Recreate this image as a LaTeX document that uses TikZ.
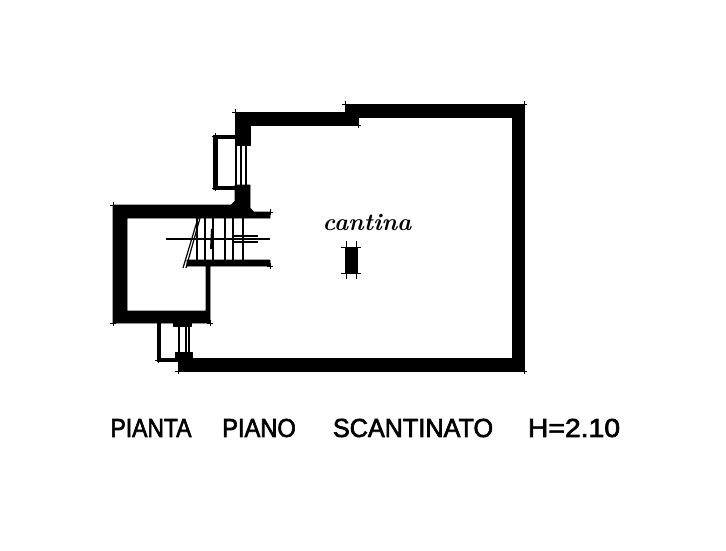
\documentclass[tikz,border=0pt]{standalone}
\usepackage{fontspec}
\setmainfont{Latin Modern Roman}
\newfontfamily\letterfont[FakeBold=2.5]{Liberation Sans}
\newcommand{\wordsqueeze}[2]{\scalebox{#1}[1]{#2}}
\tikzset{
  wall/.style={fill=black, draw=black, line width=0.6pt, line join=round},
  frame/.style={draw=black, line width=4.5pt},
  fine/.style={draw=black, line width=1.2pt},
  tick/.style={draw=black, line width=1pt},
  caption/.style={inner sep=0pt, font=\letterfont\fontsize{26}{26}\selectfont}
}
\begin{document}
\begin{tikzpicture}[x=1pt, y=-1pt]
\useasboundingbox (0,0) rectangle (726,550);

% main walls
\fill[wall] (235,112) -- (345,112) -- (345,104) -- (524,104) -- (524,371) -- (178,371) -- (178,358) -- (512,358) -- (512,117) -- (358,117) -- (358,125) -- (250,125) -- (250,145) -- (235,145) -- cycle;
\fill[wall] (235,185) -- (250,185) -- (250,208) -- (254,212) -- (270,212) -- (270,218) -- (127,218) -- (127,311) -- (206,311) -- (206,266) -- (187,266) -- (187,260) -- (270,260) -- (270,266) -- (210,266) -- (210,323) -- (113,323) -- (113,205) -- (231,205) -- (235,201) -- cycle;

% upper window
\draw[frame] (235,137) -- (215.5,137) -- (215.5,188) -- (235,188);
\draw[line width=1.6pt] (236,145) -- (236,185);
\draw[line width=1.6pt] (241,145) -- (241,185);
\draw[line width=2.4pt] (246,145) -- (246,185);

% lower window
\draw[frame] (159,323) -- (159,360) -- (178,360);
\fill[wall] (173,316) rectangle (191,326);
\fill[wall] (175,352) rectangle (192,358);
\draw[line width=2.4pt] (179,323) -- (179,352);
\draw[line width=2.4pt] (186,323) -- (186,352);
\draw[fine] (189,323) -- (189,352);

% stair
\foreach \x in {197,205,213,225,233,243} {
  \draw[fine] (\x,218) -- (\x,260);
}
\draw[fine] (198,218) -- (183,268);
\draw[fine] (200,218) -- (186,268);
\draw[fine] (166,239) -- (270,239);
\draw[line width=2pt] (212,229) -- (211,249);
\draw[fine] (234,236) -- (258,236);
\draw[fine] (232,242) -- (258,242);

% pillar
\fill[wall] (345,247) rectangle (357,273);
\draw[tick] (341,247) -- (361,247);
\draw[tick] (341,273) -- (361,273);
\draw[tick] (346,241) -- (346,279);
\draw[tick] (356,241) -- (356,279);

% corner ticks
\foreach \x/\y in {113/205, 113/323, 235/112, 345/104, 524/104, 524/371, 178/371, 358/125, 215/136, 215/188, 270/212, 270/266, 210/323, 158/360} {
  \draw[tick] (\x-3,\y) -- (\x+3,\y);
  \draw[tick] (\x,\y-3) -- (\x,\y+3);
}

\node (room) at (367,223) {\fontsize{24}{24}\selectfont\bfseries\itshape cantina};
\node[caption] (pianta) at (151,428) {\wordsqueeze{0.88}{PIANTA}};
\node[caption] (piano) at (259,428) {\wordsqueeze{0.91}{PIANO}};
\node[caption] (scantinato) at (413,428) {\wordsqueeze{0.97}{SCANTINATO}};
\node[caption] (height) at (574,428) {\wordsqueeze{1.09}{H=2.10}};
\end{tikzpicture}
\end{document}
